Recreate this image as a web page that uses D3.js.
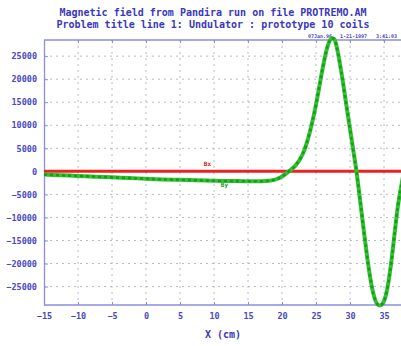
<!DOCTYPE html>
<html>
<head>
<meta charset="utf-8">
<script src="https://cdn.jsdelivr.net/npm/d3@7.9.0/dist/d3.min.js"></script>
<style>
  body { margin: 0; background: #fff; }
  svg { display: block; }
  text { font-family: "DejaVu Sans Mono", "Liberation Mono", monospace; font-weight: bold; }
</style>
</head>
<body>
<svg id="chart" width="401" height="346"></svg>
<script>
// Data
const titleLines = [
  'Magnetic field from Pandira run on file PROTREMO.AM',
  'Problem title line 1: Undulator : prototype 10 coils'
];
const stamp = ['07Jan.96', '1-21-1997', '3:41:03'];
const xTicks = [-15, -10, -5, 0, 5, 10, 15, 20, 25, 30, 35];
const yTicks = [-25000, -20000, -15000, -10000, -5000, 0, 5000, 10000, 15000, 20000, 25000];

const bxX = [-15, 40];
const bxY = [0, 0];

const byX = [-15, -12.5, -10, -7.5, -5, -2.5, 0, 2.5, 5, 7.5, 10, 12.5, 15, 17, 18, 19, 19.8, 20.5, 21, 22, 23, 23.5, 24,
  24.5, 25, 25.5, 26, 26.5, 27, 27.3, 27.7, 28, 28.5, 29, 29.5, 30, 30.5, 31, 31.5, 32, 32.5, 33, 33.5, 34, 34.4, 34.8,
  35.2, 35.6, 36, 36.6, 37, 37.5, 38];
const byY = [-700, -850, -1000, -1150, -1300, -1450, -1600, -1750, -1850, -1950, -2050, -2100, -2150, -2150, -2050, -1800, -1300, -600, 0, 1300, 3600, 5500, 8000,
  11000, 14500, 18500, 22500, 26000, 28300, 28900, 28700, 27300, 23500, 19000, 14000, 9200, 4400, -500, -6500, -12500, -18300, -23300, -26900, -28800, -29100, -28700,
  -27300, -24500, -20500, -13000, -8000, -3500, 500];

const blue = '#4848c8';
const svg = d3.select('#chart');

const x = d3.scaleLinear().domain([-15, 40]).range([44, 418]);
const y = d3.scaleLinear().domain([-29000, 28500]).range([305, 40]);

// clip plot area
svg.append('clipPath').attr('id', 'clip')
  .append('rect').attr('x', 44).attr('y', 30).attr('width', 380).attr('height', 282);

// titles
svg.selectAll('.title').data(titleLines).join('text')
  .attr('x', 213).attr('y', (d, i) => 16 + i * 12)
  .attr('text-anchor', 'middle')
  .attr('font-size', 10)
  .attr('fill', '#3838c0')
  .text(d => d);

// grid
const grid = svg.append('g').attr('stroke', '#b8b8cc').attr('stroke-dasharray', '2,4').attr('stroke-width', 1);
grid.selectAll('.gx').data(xTicks.slice(1)).join('line')
  .attr('x1', d => x(d)).attr('x2', d => x(d))
  .attr('y1', y.range()[1]).attr('y2', y.range()[0]);
grid.selectAll('.gy').data(yTicks).join('line')
  .attr('x1', 44).attr('x2', 401)
  .attr('y1', d => y(d)).attr('y2', d => y(d));

// axes frame
const xAxisB = d3.axisBottom(x).tickValues(xTicks).tickSizeInner(-3).tickSizeOuter(0).tickPadding(8).tickFormat(d3.format('d'));
const gB = svg.append('g').attr('transform', 'translate(0,305)').call(xAxisB);
const xAxisT = d3.axisTop(x).tickValues(xTicks).tickSizeInner(-3).tickSizeOuter(0).tickFormat('');
const gT = svg.append('g').attr('transform', 'translate(0,40)').call(xAxisT);
const yAxisL = d3.axisLeft(y).tickValues(yTicks).tickSizeInner(-4).tickSizeOuter(0).tickPadding(7).tickFormat(d3.format('d'));
const gL = svg.append('g').attr('transform', 'translate(44,0)').call(yAxisL);

[gB, gT, gL].forEach(g => {
  g.select('.domain').attr('stroke', '#8c8ce0').attr('stroke-width', 1.3);
  g.selectAll('.tick line').attr('stroke', '#8c8ce0');
  g.selectAll('text').attr('fill', blue).attr('font-size', 8.5)
    .attr('font-family', '"DejaVu Sans Mono", monospace').attr('font-weight', 'bold');
});
gB.select('.domain').attr('d', 'M44,0H401');
gT.select('.domain').attr('d', 'M44,0H401');

// timestamp on top axis
svg.selectAll('.stamp').data(stamp).join('text')
  .attr('x', (d, i) => [308, 340, 376][i]).attr('y', 38)
  .attr('font-size', 5).attr('fill', blue).attr('font-weight', 'normal')
  .text(d => d);

// axis label
svg.append('text').attr('x', 223).attr('y', 338).attr('text-anchor', 'middle')
  .attr('font-size', 10).attr('fill', '#3838c0').text('X (cm)');

const plot = svg.append('g').attr('clip-path', 'url(#clip)');

// Bx line
const bx = bxX.map((v, i) => [v, bxY[i]]);
plot.append('path').datum(bx)
  .attr('d', d3.line().x(d => x(d[0])).y(d => y(d[1])))
  .attr('fill', 'none').attr('stroke', '#ee2020').attr('stroke-width', 3);

// By curve
const by = byX.map((v, i) => [v, byY[i]]);
const byLine = d3.line().x(d => x(d[0])).y(d => y(d[1])).curve(d3.curveMonotoneX);
plot.append('path').datum(by).attr('d', byLine)
  .attr('fill', 'none').attr('stroke', '#33c033').attr('stroke-width', 4).attr('stroke-linecap', 'round');
plot.append('path').datum(by).attr('d', byLine)
  .attr('fill', 'none').attr('stroke', '#169e16').attr('stroke-width', 2.6)
  .attr('stroke-dasharray', '3,3');

// series labels
svg.append('text').attr('x', x(8.5)).attr('y', y(0) - 5).attr('font-size', 6)
  .attr('fill', '#d02020').attr('font-weight', 'normal').text('Bx');
svg.append('text').attr('x', x(11)).attr('y', y(0) + 16).attr('font-size', 6)
  .attr('fill', '#1a9a1a').attr('font-weight', 'normal').text('By');
</script>
</body>
</html>
